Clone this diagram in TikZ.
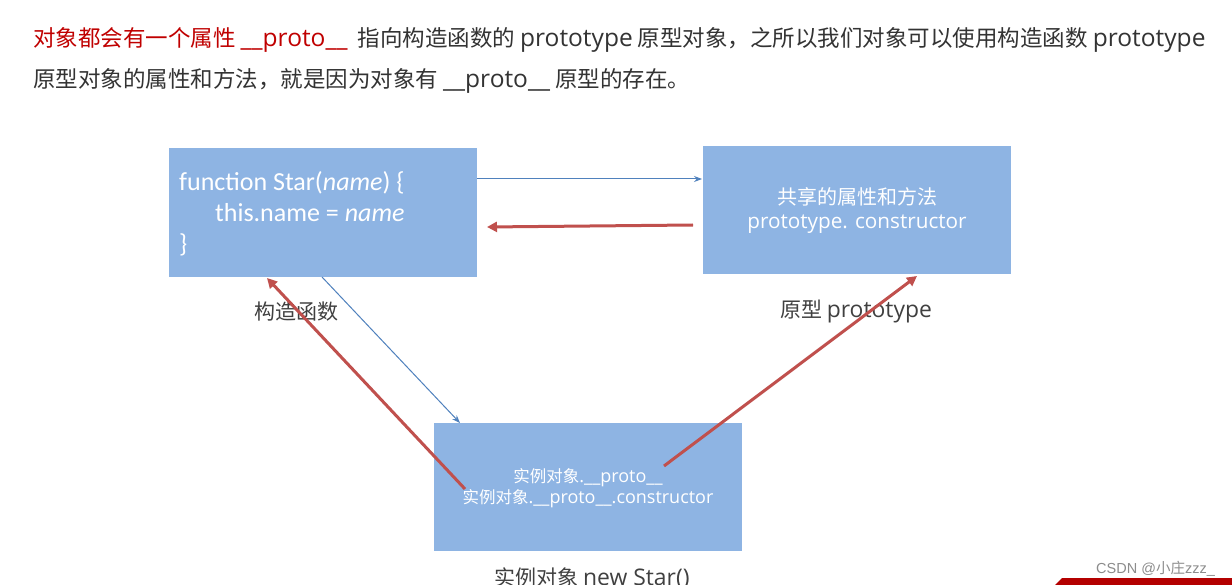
\documentclass[tikz,border=0pt]{standalone}
\usepackage{fontspec}
\setmainfont{Noto Sans CJK SC}
\newfontfamily\cjk{Noto Sans CJK SC}
\newfontfamily\latf[Scale=1.09]{Open Sans}
\newfontfamily\calib{Carlito}
\newfontfamily\arialf{Liberation Sans}
\newcommand\lat[1]{{\latf #1}}
\usetikzlibrary{arrows.meta}
\definecolor{boxblue}{HTML}{8EB4E3}
\definecolor{arrblue}{HTML}{4F81BD}
\definecolor{arrred}{HTML}{C0504D}
\definecolor{headred}{HTML}{C00000}
\definecolor{txtgray}{HTML}{333333}
\definecolor{lblgray}{HTML}{404040}
\definecolor{banner}{HTML}{B40000}
\begin{document}
\begin{tikzpicture}[x=1pt,y=-1pt,
  boxstyle/.style={fill=boxblue,draw=none},
  headtext/.style={anchor=base west,inner sep=0pt,font=\cjk\fontsize{22.5}{26}\selectfont,text=txtgray},
  lbl/.style={anchor=base,inner sep=0pt,font=\cjk\fontsize{21}{24}\selectfont,text=lblgray},
  intext/.style={anchor=base,inner sep=0pt,text=white},
  codetext/.style={anchor=base west,inner sep=0pt,text=white,font=\calib\fontsize{26}{30}\selectfont},
  bluearr/.style={draw=arrblue,line width=1pt,-{Stealth[length=8pt,width=6pt]}},
  redarr/.style={draw=arrred,line width=3pt,-{Triangle[length=10pt,width=10pt]}}]
\useasboundingbox (0,0) rectangle (1232,585);
\fill[white] (0,0) rectangle (1232,585);

% header
\node[headtext] (h1) at (33,47) {\textcolor{headred}{对象都会有一个属性 \lat{\_\_proto\_\_}}\ \ 指向构造函数的 \lat{prototype} 原型对象，之所以我们对象可以使用构造函数 \lat{prototype}};
\node[headtext] (h2) at (33,88) {原型对象的属性和方法，就是因为对象有 \lat{\_\_proto\_\_} 原型的存在。};

% boxes
\path[boxstyle] (169,148) rectangle (477,277);
\path[boxstyle] (703,146) rectangle (1011,274);
\path[boxstyle] (434,423) rectangle (742,551);

% constructor box text
\node[codetext] (c1) at (179,191) {function Star(\textit{name}) \{};
\node[codetext] (c2) at (215,222) {this.name = \textit{name}};
\node[codetext] (c3) at (179,253) {\}};

% prototype box text
\node[intext,font=\cjk\fontsize{20}{23}\selectfont] (p1) at (857,205) {共享的属性和方法};
\node[intext,font=\latf\fontsize{19}{23}\selectfont] (p2) at (857,229) {prototype. constructor};

% instance box text
\node[intext,font=\cjk\fontsize{16.5}{19}\selectfont] (i1) at (588,482) {实例对象\lat{.\_\_proto\_\_}};
\node[intext,font=\cjk\fontsize{16.5}{19}\selectfont] (i2) at (588,503) {实例对象\lat{.\_\_proto\_\_.constructor}};

% labels
\node[lbl] (l1) at (296,320) {构造函数};
\node[lbl] (l2) at (856,318) {原型 \lat{prototype}};
\node[lbl] (l3) at (592,585) {实例对象 \lat{new Star()}};

% connector end points
\coordinate (a1s) at (477,179);
\coordinate (a1e) at (702,179);
\coordinate (a2s) at (693,225);
\coordinate (a2e) at (487,227);
\coordinate (a3s) at (322,277);
\coordinate (a3e) at (460,423);
\coordinate (a4s) at (465,489);
\coordinate (a4e) at (267,278);
\coordinate (a5s) at (664,466);
\coordinate (a5e) at (917,276);

\draw[bluearr] (a1s) -- (a1e);
\draw[redarr] (a2s) -- (a2e);
\draw[bluearr] (a3s) -- (a3e);
\draw[redarr] (a4s) -- (a4e);
\draw[redarr] (a5s) -- (a5e);

% watermark and banner
\node[anchor=base west,inner sep=0pt,text=black!45,font=\arialf\fontsize{14.5}{16}\selectfont] (wm) at (1096,573) {CSDN @{\cjk 小庄}zzz\_};
\fill[banner] (1055,585) -- (1062,578) -- (1232,578) -- (1232,585) -- cycle;
\end{tikzpicture}
\end{document}
